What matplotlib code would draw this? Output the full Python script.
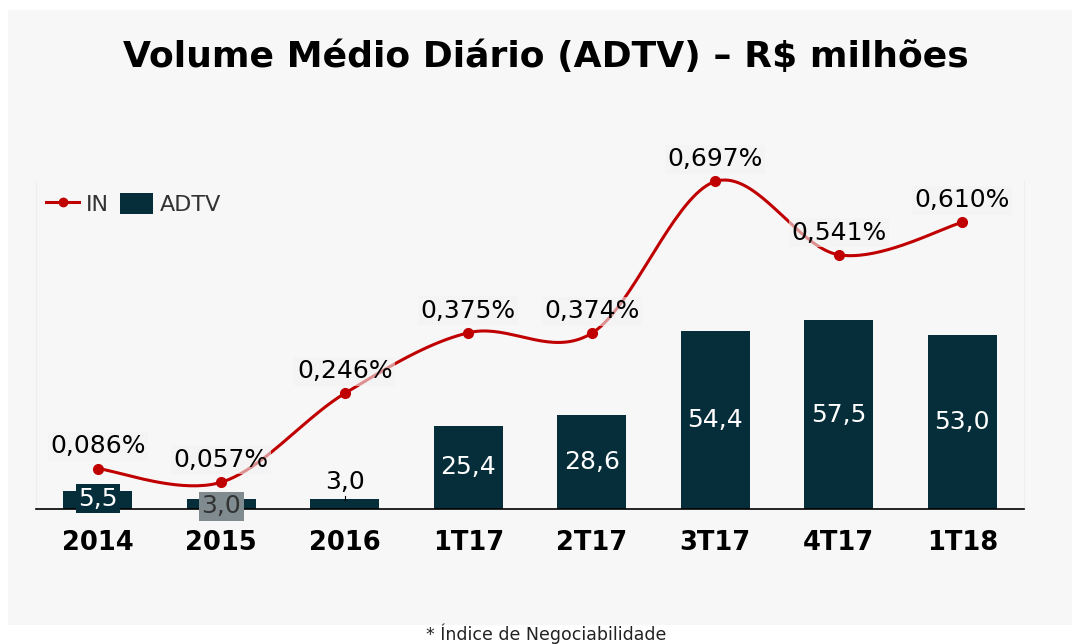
import matplotlib
matplotlib.use("Agg")
import matplotlib.pyplot as plt
import numpy as np
from matplotlib.patches import Rectangle
from matplotlib.lines import Line2D

# data
periodos = ['2014', '2015', '2016', '1T17', '2T17', '3T17', '4T17', '1T18']
adtv = [5.5, 3.0, 3.0, 25.4, 28.6, 54.4, 57.5, 53.0]
indice_neg = [0.086, 0.057, 0.246, 0.375, 0.374, 0.697, 0.541, 0.610]

bar_color = '#052d3a'
line_color = '#c00000'

W, H = 1072, 644
fig = plt.figure(figsize=(W / 100, H / 100), dpi=100, facecolor='white')

# gray panel behind everything
fig.patches.append(Rectangle((8 / W, (H - 625) / H), 1 - 8 / W, (625 - 10) / H,
                             transform=fig.transFigure, facecolor='#f7f7f7',
                             edgecolor='none', zorder=-5))

left, right, top, base = 36, 1024, 181, 509
ax = fig.add_axes([left / W, (H - base) / H, (right - left) / W, (base - top) / H])
ax.set_facecolor('none')
x = np.arange(len(periodos))

ax.bar(x, adtv, width=0.56, color=bar_color, zorder=2)
ax.set_xlim(-0.5, len(periodos) - 0.5)
ax.set_ylim(0, 100)
ax.set_yticks([])
ax.set_xticks(x)
ax.set_xticklabels(periodos, fontsize=18.5, fontweight='bold', color='black')
ax.tick_params(axis='x', length=0, pad=15)
for s in ['top', 'left', 'right']:
    ax.spines[s].set_color('#eeeeee')
    ax.spines[s].set_linewidth(0.8)
ax.spines['top'].set_visible(False)
ax.spines['bottom'].set_color('black')
ax.spines['bottom'].set_linewidth(1.2)
ax.spines['bottom'].set_zorder(3)

# bar labels
fmt = lambda v: f"{v:.1f}".replace('.', ',')
for i, v in enumerate(adtv):
    if i == 0:
        ax.text(i, v / 2 + 0.3, fmt(v), ha='center', va='center', fontsize=18,
                color='white', zorder=5,
                bbox=dict(boxstyle='square,pad=0.1', facecolor=bar_color, edgecolor='none'))
    elif i == 1:
        ax.text(i, v / 2 - 0.6, fmt(v), ha='center', va='center', fontsize=18,
                color='#333333', zorder=5,
                bbox=dict(boxstyle='square,pad=0.1', facecolor='#7f8b8e',
                          edgecolor='none'))
    elif i == 2:
        ax.text(i, v + 1.5, fmt(v), ha='center', va='bottom', fontsize=18,
                color='black', zorder=5)
        ax.plot([i, i], [v - 0.2, v + 1.0], color='black', lw=0.8, zorder=5)
    else:
        ax.text(i, v / 2, fmt(v), ha='center', va='center', fontsize=18,
                color='white', zorder=5)

# secondary axis for IN line
ax2 = ax.twinx()
ax2.set_ylim(0, 0.698)
ax2.set_yticks([])
for s in ax2.spines.values():
    s.set_visible(False)

# smooth curve (Catmull-Rom in screen-like units)
px = x * 123.5
py = np.array(indice_neg) * 470
P = np.column_stack([px, py])
P = np.vstack([P[0], P, P[-1]])
cx, cy = [], []
for k in range(1, len(P) - 2):
    p0, p1, p2, p3 = P[k - 1], P[k], P[k + 1], P[k + 2]
    c1 = p1 + (p2 - p0) / 6
    c2 = p2 - (p3 - p1) / 6
    t = np.linspace(0, 1, 40)[:, None]
    b = (1 - t) ** 3 * p1 + 3 * (1 - t) ** 2 * t * c1 + 3 * (1 - t) * t ** 2 * c2 + t ** 3 * p2
    cx.extend(b[:, 0])
    cy.extend(b[:, 1])
cx = np.array(cx) / 123.5
cy = np.array(cy) / 470
ax2.plot(cx, cy, color=line_color, lw=2.2, zorder=3, clip_on=False)
ax2.plot(x, indice_neg, 'o', color=line_color, ms=7, zorder=4, clip_on=False)

for i, v in enumerate(indice_neg):
    ax2.annotate(f"{v:.3f}%".replace('.', ','), (i, v), xytext=(0, 16),
                 textcoords='offset points', ha='center', va='center',
                 fontsize=18, color='black', zorder=6,
                 bbox=dict(boxstyle='square,pad=0.1', facecolor='#f2f2f2',
                           alpha=0.6, edgecolor='none'))

# legend
leg_handles = [Line2D([0], [0], color=line_color, lw=2.2, marker='o', ms=6),
               Rectangle((0, 0), 1, 1, facecolor=bar_color)]
fig.legend(leg_handles, ['IN', 'ADTV'], loc='center left',
           bbox_to_anchor=(26 / W, (H - 204) / H), ncol=2, frameon=False,
           fontsize=16, labelcolor='#333333', handlelength=1.5, handletextpad=0.3,
           columnspacing=0.5, handleheight=1.1)

fig.text(546 / W, (H - 57) / H, 'Volume Médio Diário (ADTV) – R$ milhões',
         ha='center', va='center', fontsize=26, fontweight='bold', color='black')
fig.text(546 / W, (H - 634) / H, '* Índice de Negociabilidade', ha='center',
         va='center', fontsize=12.5, color='#222222')

fig.savefig('out.png', dpi=100, facecolor='white')
